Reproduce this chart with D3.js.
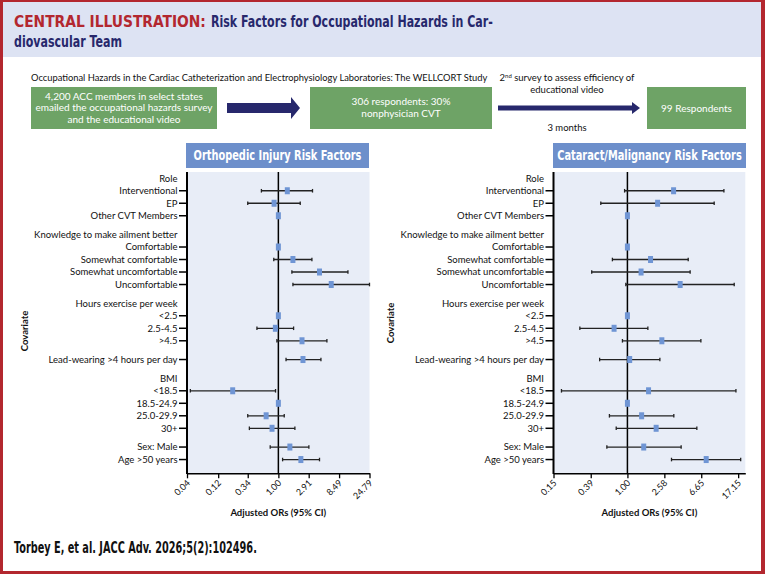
<!DOCTYPE html>
<html><head><meta charset="utf-8">
<script src="https://cdn.jsdelivr.net/npm/d3@7"></script>
<style>
body{margin:0;background:#fff}
svg{display:block}
text{font-family:Lato,"Open Sans",sans-serif}
</style>
</head><body>
<svg id="c" width="765" height="574"></svg>
<script>
// ---------- data ----------
const rowLabels = ["Role","Interventional","EP","Other CVT Members",
  "Knowledge to make ailment better","Comfortable","Somewhat comfortable","Somewhat uncomfortable","Uncomfortable",
  "Hours exercise per week","<2.5","2.5-4.5",">4.5",
  "Lead-wearing >4 hours per day",
  "BMI","<18.5","18.5-24.9","25.0-29.9","30+",
  "Sex: Male","Age >50 years"];
const rowIsHeader = [1,0,0,0, 1,0,0,0,0, 1,0,0,0, 0, 1,0,0,0,0, 0,0];
const rowGroup    = [0,0,0,0, 1,1,1,1,1, 2,2,2,2, 3, 4,4,4,4,4, 5,5];

const orthoTicks = ["0.04","0.12","0.34","1.00","2.91","8.49","24.79"];
const orthoOR = [null,1.37,0.86,1.00, null,1.00,1.67,4.26,6.44, null,1.00,0.90,2.30, 2.38, null,0.20,1.00,0.65,0.80, 1.50,2.21];
const orthoLo = [null,0.55,0.34,null, null,null,0.85,1.61,1.67, null,null,0.47,0.95, 1.31, null,0.045,null,0.34,0.36, 0.75,1.16];
const orthoHi = [null,3.33,2.16,null, null,null,3.26,11.6,24.79, null,null,1.71,5.53, 4.48, null,0.905,null,1.23,1.79, 2.93,4.26];

const cataTicks = ["0.15","0.39","1.00","2.58","6.65","17.15"];
const cataOR = [null,3.27,2.17,1.00, null,1.00,1.81,1.42,3.87, null,1.00,0.71,2.42, 1.06, null,1.72,1.00,1.44,2.09, 1.52,7.55];
const cataLo = [null,0.93,0.505,null, null,null,0.68,0.40,0.96, null,null,0.295,0.88, 0.49, null,0.184,null,0.63,0.75, 0.59,3.10];
const cataHi = [null,11.9,9.27,null, null,null,4.76,5.00,15.5, null,null,1.69,6.59, 2.30, null,16.2,null,3.29,5.94, 3.97,18.3];

// ---------- colours ----------
const RED="#b3272f", NAVY="#27286c", GREEN="#6ea366", PANEL="#6d8fcb", PLOTBG="#e8edf7", MARK="#6f95d4";

const svg = d3.select("#c");

// squeeze a text horizontally so it spans exactly `w` pixels
function fitText(parent, x, y, w, anchor, txt, style){
  const t = parent.append("text").attr("x",0).attr("y",0).attr("text-anchor",anchor);
  Object.entries(style).forEach(([k,v])=>t.style(k,v));
  if(style.fill) t.attr("fill",style.fill);
  t.text(txt);
  const nat = t.node().getComputedTextLength();
  const k = nat>0 ? w/nat : 1;
  t.attr("transform",`translate(${x},${y}) scale(${k},1)`);
  return t;
}

// frame and title band
svg.append("rect").attr("x",0).attr("y",0).attr("width",765).attr("height",574).attr("fill","#fff");
svg.append("rect").attr("x",3).attr("y",2).attr("width",758).attr("height",55).attr("fill","#dde3f3");
[[0,0,3,574],[761,0,4,574],[0,0,765,2],[0,571,765,3]].forEach(r=>
  svg.append("rect").attr("x",r[0]).attr("y",r[1]).attr("width",r[2]).attr("height",r[3]).attr("fill",RED));

// title
const tfont = '"Liberation Sans Narrow","DejaVu Sans Condensed",sans-serif';
const tstyle = c=>({"font-family":tfont,"font-weight":"bold","font-size":"16.5px",fill:c});
fitText(svg,14,27,192,"start","CENTRAL ILLUSTRATION:",tstyle(RED));
fitText(svg,211,27,282,"start","Risk Factors for Occupational Hazards in Car-",tstyle(NAVY));
fitText(svg,14,47,108,"start","diovascular Team",tstyle(NAVY));

// flow section
fitText(svg,31,81,457,"start","Occupational Hazards in the Cardiac Catheterization and Electrophysiology Laboratories: The WELLCORT Study",
  {"font-size":"9.5px",fill:"#111"});

function box(x,y,w,h,lines,ys){
  svg.append("rect").attr("x",x).attr("y",y).attr("width",w).attr("height",h).attr("fill",GREEN);
  lines.forEach((t,i)=>svg.append("text").attr("x",x+w/2).attr("y",ys[i]).attr("text-anchor","middle")
    .style("font-size","10px").attr("fill","#fff").text(t));
}
box(31,87,186,42,["4,200 ACC members in select states","emailed the occupational hazards survey","and the educational video"],[99.5,111,122.5]);
box(310,87,182,42,["306 respondents: 30%","nonphysician CVT"],[105,116.5]);
box(647,87,99,42,["99 Respondents"],[111.5]);

// arrows
svg.append("path").attr("d","M227,103 L291,103 L291,97 L300,108 L291,119 L291,113 L227,113 Z").attr("fill",NAVY);
svg.append("path").attr("d","M498,105.5 L632,105.5 L632,102 L640,108 L632,114 L632,110.5 L498,110.5 Z").attr("fill",NAVY);
const t2 = svg.append("text").attr("x",567).attr("y",81).attr("text-anchor","middle").style("font-size","9.5px").attr("fill","#111");
t2.append("tspan").text("2");
t2.append("tspan").attr("baseline-shift","super").style("font-size","6px").text("nd");
t2.append("tspan").text(" survey to assess efficiency of");
svg.append("text").attr("x",567).attr("y",93).attr("text-anchor","middle").style("font-size","9.5px").attr("fill","#111").text("educational video");
svg.append("text").attr("x",567).attr("y",131).attr("text-anchor","middle").style("font-size","9.5px").attr("fill","#111").text("3 months");

// footer
fitText(svg,14,553,243,"start","Torbey E, et al. JACC Adv. 2026;5(2):102496.",
  {"font-family":tfont,"font-weight":"bold","font-size":"15.5px",fill:"#111"});

// ---------- panels ----------
const rowPos = rowLabels.map((d,i)=>i + 0.5*rowGroup[i]);
const y = d3.scaleLinear().domain([-0.5, 23.6]).range([172, 473.3]);

function panel(cfg){
  const g = svg.append("g");
  const x = d3.scaleLog().domain(cfg.domain).range([cfg.x0, cfg.x1]);
  const [yTop,yBot] = y.range();
  // title box
  g.append("rect").attr("x",cfg.tb[0]).attr("y",143).attr("width",cfg.tb[1]-cfg.tb[0]).attr("height",25).attr("fill",PANEL);
  fitText(g,(cfg.tb[0]+cfg.tb[1])/2,160,cfg.tlen,"middle",cfg.title,
    {"font-family":tfont,"font-weight":"bold","font-size":"13.5px",fill:"#fff"});
  // plot bg
  g.append("rect").attr("x",cfg.x0).attr("y",yTop).attr("width",cfg.x1-cfg.x0).attr("height",yBot-yTop).attr("fill",PLOTBG);
  // reference line
  g.append("line").attr("x1",x(1)).attr("x2",x(1)).attr("y1",yTop).attr("y2",yBot).attr("stroke","#000").attr("stroke-width",1.5);
  // x axis
  const ax = g.append("g").attr("transform",`translate(0,${yBot})`)
    .call(d3.axisBottom(x).tickValues(cfg.ticks.map(Number)).tickFormat((d,i)=>cfg.ticks[i]).tickSize(5).tickSizeOuter(0));
  ax.select(".domain").attr("stroke","#000").attr("stroke-width",1.5);
  ax.selectAll(".tick line").attr("stroke","#000").attr("stroke-width",1.3);
  ax.selectAll(".tick text").attr("transform","rotate(-45)").attr("text-anchor","end")
    .attr("x",-5).attr("y",6.3).attr("dy","0.35em")
    .style("font-family","Lato,sans-serif").style("font-size","9px").attr("fill","#111");
  // y axis line
  g.append("line").attr("x1",cfg.x0).attr("x2",cfg.x0).attr("y1",yTop).attr("y2",yBot+0.75).attr("stroke","#000").attr("stroke-width",2);
  // labels
  rowLabels.forEach((lab,i)=>{
    g.append("text").attr("x",cfg.x0-9.5).attr("y",y(rowPos[i])).attr("dy","0.35em").attr("text-anchor","end")
      .style("font-size","9.5px").attr("fill","#111").text(lab);
    if(!rowIsHeader[i]) g.append("line").attr("x1",cfg.x0-8).attr("x2",cfg.x0).attr("y1",y(rowPos[i])).attr("y2",y(rowPos[i]))
      .attr("stroke","#000").attr("stroke-width",1.5);
  });
  // CIs
  rowLabels.forEach((lab,i)=>{
    if(cfg.lo[i]==null) return;
    const yy=y(rowPos[i]);
    const xl=x(cfg.lo[i]), xh=Math.min(x(cfg.hi[i]),cfg.x1);
    g.append("line").attr("x1",xl).attr("x2",xh).attr("y1",yy).attr("y2",yy).attr("stroke","#222").attr("stroke-width",1.3);
    [xl,xh].forEach(xc=>g.append("line").attr("x1",xc).attr("x2",xc).attr("y1",yy-1.8).attr("y2",yy+1.8).attr("stroke","#222").attr("stroke-width",1.3));
  });
  // markers
  rowLabels.forEach((lab,i)=>{
    if(cfg.or[i]==null) return;
    const yy=y(rowPos[i]);
    g.append("rect").attr("x",x(cfg.or[i])-2.5).attr("y",yy-3.5).attr("width",5).attr("height",7).attr("fill",MARK);
  });
  // axis titles
  g.append("text").attr("x",(cfg.x0+cfg.x1)/2).attr("y",516).attr("text-anchor","middle")
    .style("font-size","9.5px").style("font-weight","bold").attr("fill","#111").text("Adjusted ORs (95% CI)");
  g.append("text").attr("transform",`translate(${cfg.covX},${cfg.covY}) rotate(-90)`).attr("text-anchor","middle")
    .style("font-size","9.5px").style("font-weight","bold").attr("fill","#111").text("Covariate");
}

panel({x0:187, x1:369.5, domain:[0.04,24.79], ticks:orthoTicks, or:orthoOR, lo:orthoLo, hi:orthoHi,
  tb:[186,369], title:"Orthopedic Injury Risk Factors", tlen:168, covX:28, covY:331});
panel({x0:553.5, x1:745.3, domain:[0.15,20.6], ticks:cataTicks, or:cataOR, lo:cataLo, hi:cataHi,
  tb:[553,746], title:"Cataract/Malignancy Risk Factors", tlen:185, covX:394, covY:323});
</script>
</body></html>
